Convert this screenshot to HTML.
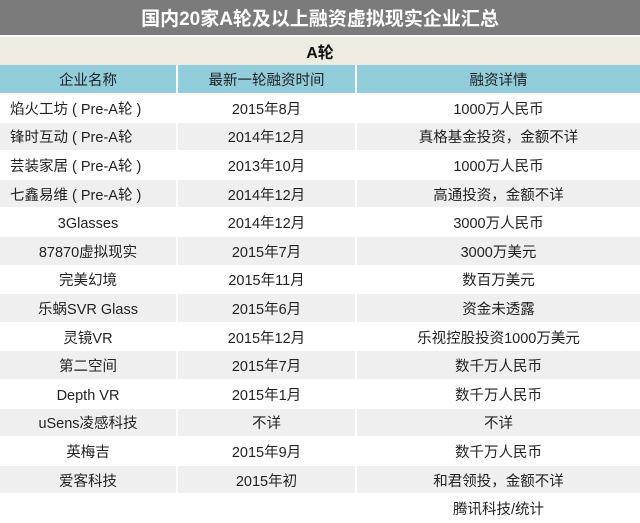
<!DOCTYPE html>
<html><head><meta charset="utf-8"><style>
*{margin:0;padding:0;box-sizing:border-box}
body{width:640px;height:521px;background:#fff;font-family:"Liberation Sans","Noto Sans CJK SC",sans-serif;overflow:hidden}
.t{height:37px;background:#7b7b7b;color:#fff;font-weight:bold;font-size:19px;display:flex;align-items:center;justify-content:center;border-bottom:2px solid #fff}
.a{height:28px;background:#eeece1;font-weight:bold;font-size:16px;display:flex;align-items:center;justify-content:center;color:#111}
.r{display:flex;height:28.6px;border-bottom:1px solid #fff}
.r>div{display:flex;align-items:center;justify-content:center;font-size:14.5px;color:#222;white-space:nowrap;height:100%}
.r>div>span{display:block;line-height:16px;height:16px;overflow:visible;position:relative;top:2px}
.r>div:nth-child(1){width:178px;border-right:2px solid #fff}
.r>div:nth-child(2){width:179px;border-right:2px solid #fff}
.r>div:nth-child(3){flex:1}
.h>div{background:#92cddc}
.g>div{background:#efefef}
.r>div.l{justify-content:flex-start;padding-left:10px}
</style></head><body>
<div class="t">国内20家A轮及以上融资虚拟现实企业汇总</div>
<div class="a">A轮</div>
<div class="r h" style="height:29px"><div><span>企业名称</span></div><div><span>最新一轮融资时间</span></div><div><span>融资详情</span></div></div>
<div class="r"><div class="l"><span>焰火工坊 ( Pre-A轮 )</span></div><div><span>2015年8月</span></div><div><span>1000万人民币</span></div></div>
<div class="r g"><div class="l"><span>锋时互动 ( Pre-A轮</span></div><div><span>2014年12月</span></div><div><span>真格基金投资，金额不详</span></div></div>
<div class="r"><div class="l"><span>芸装家居 ( Pre-A轮 )</span></div><div><span>2013年10月</span></div><div><span>1000万人民币</span></div></div>
<div class="r g"><div class="l"><span>七鑫易维 ( Pre-A轮 )</span></div><div><span>2014年12月</span></div><div><span>高通投资，金额不详</span></div></div>
<div class="r"><div><span>3Glasses</span></div><div><span>2014年12月</span></div><div><span>3000万人民币</span></div></div>
<div class="r g"><div><span>87870虚拟现实</span></div><div><span>2015年7月</span></div><div><span>3000万美元</span></div></div>
<div class="r"><div><span>完美幻境</span></div><div><span>2015年11月</span></div><div><span>数百万美元</span></div></div>
<div class="r g"><div><span>乐蜗SVR Glass</span></div><div><span>2015年6月</span></div><div><span>资金未透露</span></div></div>
<div class="r"><div><span>灵镜VR</span></div><div><span>2015年12月</span></div><div><span>乐视控股投资1000万美元</span></div></div>
<div class="r g"><div><span>第二空间</span></div><div><span>2015年7月</span></div><div><span>数千万人民币</span></div></div>
<div class="r"><div><span>Depth VR</span></div><div><span>2015年1月</span></div><div><span>数千万人民币</span></div></div>
<div class="r g"><div><span>uSens凌感科技</span></div><div><span>不详</span></div><div><span>不详</span></div></div>
<div class="r"><div><span>英梅吉</span></div><div><span>2015年9月</span></div><div><span>数千万人民币</span></div></div>
<div class="r g"><div><span>爱客科技</span></div><div><span>2015年初</span></div><div><span>和君领投，金额不详</span></div></div>
<div class="r"><div></div><div></div><div><span>腾讯科技/统计</span></div></div>
</body></html>
